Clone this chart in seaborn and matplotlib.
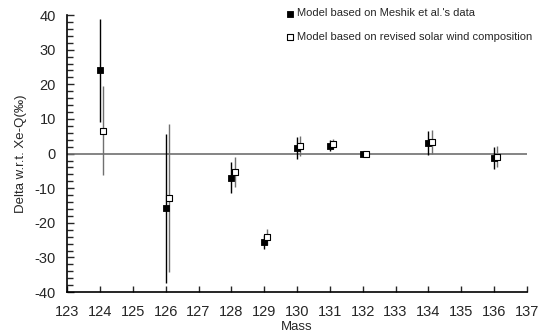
import matplotlib
matplotlib.use('Agg')
import matplotlib.pyplot as plt
import seaborn as sns
import pandas as pd
from matplotlib.ticker import MultipleLocator

# masses
mass = [124, 126, 128, 129, 130, 131, 132, 134, 136]

# Model based on Meshik et al.'s data
meshik_delta = [24.0, -15.8, -7.0, -25.5, 1.7, 2.3, 0.0, 3.1, -1.2]
meshik_err = [15.0, 21.5, 4.5, 2.0, 3.2, 1.6, 0.3, 3.5, 3.2]

# Model based on revised solar wind composition
revised_delta = [6.6, -12.8, -5.3, -24.1, 2.2, 2.7, 0.0, 3.4, -0.9]
revised_err = [12.8, 21.4, 4.3, 2.2, 3.0, 1.5, 0.3, 3.4, 3.0]

shift = 0.1

sns.set_style("ticks")
plt.rcParams['font.family'] = ['Liberation Sans', 'DejaVu Sans']
plt.rcParams['axes.unicode_minus'] = False

df1 = pd.DataFrame({'mass': mass, 'delta': meshik_delta})
df2 = pd.DataFrame({'mass': [m + shift for m in mass], 'delta': revised_delta})

fig = plt.figure(figsize=(5.42, 3.35), dpi=100)
ax = fig.add_axes([0.124, 0.128, 0.848, 0.827])

ax.axhline(0, color='#707070', lw=1.2, zorder=1)

ax.errorbar(df1['mass'], df1['delta'], yerr=meshik_err, fmt='none',
            ecolor='black', elinewidth=1.0, capsize=0, zorder=2)
ax.errorbar(df2['mass'], df2['delta'], yerr=revised_err, fmt='none',
            ecolor='#707070', elinewidth=1.0, capsize=0, zorder=2)

sns.scatterplot(data=df1, x='mass', y='delta', marker='s', s=22, color='black',
                edgecolor='black', linewidth=0.6, ax=ax, zorder=3,
                label="Model based on Meshik et al.'s data")
sns.scatterplot(data=df2, x='mass', y='delta', marker='s', s=22, color='white',
                edgecolor='black', linewidth=0.8, ax=ax, zorder=3,
                label='Model based on revised solar wind composition')

ax.set_xlim(123, 137)
ax.set_ylim(-40, 40)
ax.xaxis.set_major_locator(MultipleLocator(1))
ax.yaxis.set_major_locator(MultipleLocator(10))
ax.yaxis.set_minor_locator(MultipleLocator(2))

ax.tick_params(axis='x', direction='in', length=4, width=1, labelsize=10.5, pad=9)
ax.tick_params(axis='y', which='major', direction='in', length=5, width=1,
               labelsize=10.5, pad=8)
ax.tick_params(axis='y', which='minor', direction='in', length=4, width=1)

ax.set_xlabel('Mass', fontsize=9.5, labelpad=2)
ax.set_ylabel('Delta w.r.t. Xe-Q(‰)', fontsize=9.5, labelpad=6)

for side in ['top', 'right']:
    ax.spines[side].set_visible(False)
for side in ['left', 'bottom']:
    ax.spines[side].set_linewidth(1.2)
    ax.spines[side].set_color('black')

ax.legend(loc='upper left', bbox_to_anchor=(0.467, 1.04), frameon=False,
          fontsize=8, handletextpad=0.3, labelspacing=1.2, markerscale=0.8,
          handlelength=0.7, borderaxespad=0)

plt.savefig('out.png', dpi=100)
plt.close()
